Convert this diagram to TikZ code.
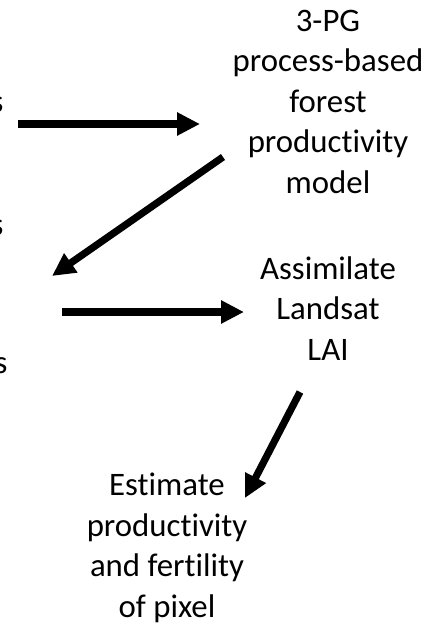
\documentclass[tikz,border=0pt]{standalone}
\usepackage{fontspec}
\setmainfont{Carlito}[Ligatures=NoCommon]
\usetikzlibrary{arrows.meta}

\begin{document}
\begin{tikzpicture}[x=1pt, y=-1pt, line width=7.2pt,
  every node/.style={font=\fontsize{32.8}{40.5}\selectfont, align=center, inner sep=0pt},
  flow/.style={-{Triangle[length=23pt,width=22pt]}}]
\useasboundingbox (0,0) rectangle (431,625);
\clip (0,0) rectangle (431,625);

% text blocks, placed by the baseline of their last line
\node (model) at (328,193) [anchor=base] {3-PG\\process-based\\forest\\productivity\\model};
\node (lai)   at (328,360) [anchor=base] {Assimilate\\Landsat\\LAI};
\node (est)   at (167,617) [anchor=base] {Estimate\\productivity\\and fertility\\of pixel};
\node (s1) at (7,112)  [anchor=base east] {s};
\node (s2) at (7,235)  [anchor=base east] {s};
\node (s3) at (11,373) [anchor=base east] {s};

\coordinate (a1) at (18,124);  \coordinate (b1) at (200,124);
\coordinate (a2) at (223,157); \coordinate (b2) at (52,276);
\coordinate (a3) at (62,312);  \coordinate (b3) at (244,312);
\coordinate (a4) at (300,392); \coordinate (b4) at (245,498);

\draw[flow] (a1) -- (b1);
\draw[flow] (a2) -- (b2);
\draw[flow] (a3) -- (b3);
\draw[flow] (a4) -- (b4);
\end{tikzpicture}
\end{document}
